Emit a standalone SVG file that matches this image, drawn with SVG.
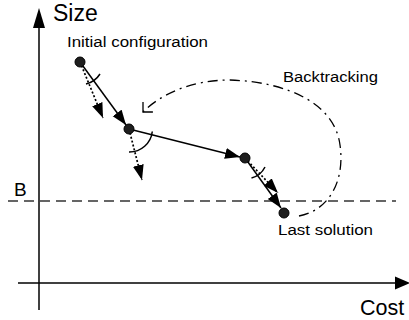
<svg xmlns="http://www.w3.org/2000/svg" width="409" height="320" viewBox="0 0 409 320">
  <style>
    .lbl { font-family: "Liberation Sans", Arial, sans-serif; fill: #000; }
    .axis { stroke: #000; stroke-width: 1.5; fill: none; }
    .step { stroke: #000; stroke-width: 1.5; fill: none; }
    .probe { stroke: #000; stroke-width: 1.7; fill: none; stroke-dasharray: 2 2; }
    .angle { stroke: #000; stroke-width: 1.5; fill: none; }
    .node { fill: #1e1e1e; stroke: #000; stroke-width: 1; }
    .back { stroke: #000; stroke-width: 1.3; fill: none; stroke-dasharray: 10 5 2 5; }
  </style>
  <defs>
    <marker id="solidHead" markerUnits="userSpaceOnUse" markerWidth="17" markerHeight="13" refX="15" refY="5.5" orient="auto">
      <path d="M0,0 L15,5.5 L0,11 z" fill="#000"/>
    </marker>
    <marker id="openHead" markerUnits="userSpaceOnUse" markerWidth="12" markerHeight="16" refX="9" refY="8" orient="auto">
      <path d="M2,1 L9,8 L2,15" fill="none" stroke="#000" stroke-width="1.3"/>
    </marker>
  </defs>

  <!-- axes -->
  <g id="axes">
    <line class="axis" x1="39" y1="310" x2="39" y2="26"/>
    <polygon points="33,28 39,8 45,28" fill="#000"/>
    <line class="axis" x1="18" y1="283" x2="397" y2="283"/>
    <polygon points="395,276.5 410,283 395,289.5" fill="#000"/>
    <text class="lbl" x="53" y="21" font-size="23">Size</text>
    <text class="lbl" x="360" y="315" font-size="21.5">Cost</text>
  </g>

  <!-- bound B -->
  <g id="bound">
    <line x1="8" y1="201" x2="396" y2="201" stroke="#333" stroke-width="1.5" stroke-dasharray="10 6"/>
    <text class="lbl" x="14" y="196" font-size="19">B</text>
  </g>

  <!-- connectors -->
  <g id="connectors">
    <line class="step" x1="80" y1="62" x2="126" y2="125" marker-end="url(#solidHead)"/>
    <line class="step" x1="129" y1="129" x2="240" y2="157" marker-end="url(#solidHead)"/>
    <line class="step" x1="245" y1="158" x2="281" y2="208" marker-end="url(#solidHead)"/>

    <line class="probe" x1="80" y1="62" x2="103" y2="118" marker-end="url(#solidHead)"/>
    <line class="probe" x1="129" y1="129" x2="142" y2="180" marker-end="url(#solidHead)"/>
    <line class="probe" x1="245" y1="158" x2="278" y2="193" marker-end="url(#solidHead)"/>

    <path class="angle" d="M100,74 A23,23 0 0 1 86,84"/>
    <path class="angle" d="M152.3,131.5 A23,23 0 0 1 129,152"/>
    <path class="angle" d="M265,167 A21,21 0 0 1 251.5,178"/>

    <path class="back" d="M299,216 C330,210 345,180 340,145 C335,105 290,82 230,80 C190,80 160,95 143,112" marker-end="url(#openHead)"/>
  </g>

  <!-- nodes -->
  <g id="node-initial">
    <circle class="node" cx="80" cy="62" r="5"/>
    <text class="lbl" x="67" y="47" font-size="15.5" textLength="141" lengthAdjust="spacingAndGlyphs">Initial configuration</text>
  </g>
  <g id="node-step2">
    <circle class="node" cx="129" cy="129" r="5"/>
  </g>
  <g id="node-step3">
    <circle class="node" cx="245" cy="158" r="5"/>
  </g>
  <g id="node-last">
    <circle class="node" cx="284" cy="213" r="5"/>
    <text class="lbl" x="278" y="235" font-size="15.5" textLength="95" lengthAdjust="spacingAndGlyphs">Last solution</text>
  </g>

  <text class="lbl" x="283" y="82" font-size="15.5" textLength="95" lengthAdjust="spacingAndGlyphs">Backtracking</text>
</svg>
